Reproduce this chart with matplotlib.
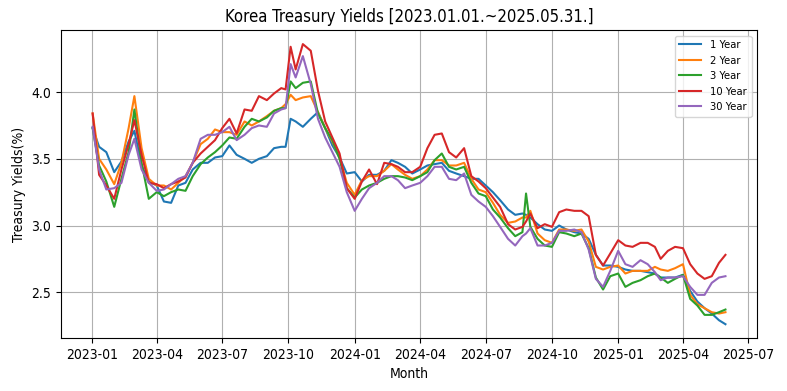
import pandas as pd
import matplotlib.pyplot as plt
import matplotlib.dates as mdates

plt.rcParams['font.family'] = ['DejaVu Sans']
plt.rcParams['font.stretch'] = 'condensed'

# 날짜 (약 10일 간격으로 읽은 값)
dates = [
    "2023-01-02", "2023-01-11", "2023-01-21", "2023-02-01", "2023-02-11", "2023-02-21",
    "2023-03-01", "2023-03-11", "2023-03-21", "2023-04-01", "2023-04-11", "2023-04-21",
    "2023-05-01", "2023-05-11", "2023-05-21", "2023-06-01", "2023-06-11", "2023-06-21",
    "2023-07-01", "2023-07-11", "2023-07-21", "2023-08-01", "2023-08-11", "2023-08-21",
    "2023-09-01", "2023-09-11", "2023-09-21", "2023-09-27", "2023-10-04", "2023-10-11",
    "2023-10-21", "2023-11-01", "2023-11-11", "2023-11-21", "2023-12-01", "2023-12-11",
    "2023-12-21", "2024-01-01", "2024-01-11", "2024-01-21", "2024-02-01", "2024-02-11",
    "2024-02-21", "2024-03-01", "2024-03-11", "2024-03-21", "2024-04-01", "2024-04-11",
    "2024-04-21", "2024-05-01", "2024-05-11", "2024-05-21", "2024-06-01", "2024-06-11",
    "2024-06-21", "2024-07-01", "2024-07-11", "2024-07-21", "2024-08-01", "2024-08-11",
    "2024-08-21", "2024-08-26", "2024-09-01", "2024-09-11", "2024-09-21", "2024-10-01",
    "2024-10-11", "2024-10-21", "2024-11-01", "2024-11-11", "2024-11-21", "2024-12-01",
    "2024-12-11", "2024-12-21", "2025-01-01", "2025-01-11", "2025-01-21", "2025-02-01",
    "2025-02-11", "2025-02-21", "2025-03-01", "2025-03-11", "2025-03-21", "2025-04-01",
    "2025-04-11", "2025-04-21", "2025-05-01", "2025-05-11", "2025-05-21", "2025-05-30",
]

y1 = [
    3.73, 3.59, 3.55, 3.40, 3.48, 3.63, 3.71, 3.45, 3.33, 3.30, 3.18, 3.17,
    3.30, 3.32, 3.42, 3.47, 3.47, 3.51, 3.52, 3.60, 3.53, 3.50, 3.47, 3.50,
    3.52, 3.58, 3.59, 3.59, 3.80, 3.78, 3.74, 3.80, 3.85, 3.73, 3.60, 3.51,
    3.39, 3.40, 3.33, 3.38, 3.38, 3.41, 3.49, 3.47, 3.44, 3.39, 3.42, 3.45,
    3.46, 3.47, 3.41, 3.39, 3.37, 3.35, 3.35, 3.30, 3.25, 3.19, 3.12, 3.08,
    3.09, 3.08, 3.06, 3.01, 2.97, 2.96, 3.00, 2.97, 2.95, 2.94, 2.90, 2.78,
    2.70, 2.70, 2.69, 2.67, 2.66, 2.66, 2.65, 2.64, 2.61, 2.61, 2.61, 2.63,
    2.51, 2.43, 2.38, 2.34, 2.29, 2.26,
]
y2 = [
    3.84, 3.50, 3.42, 3.31, 3.47, 3.73, 3.97, 3.58, 3.35, 3.30, 3.30, 3.27,
    3.32, 3.37, 3.47, 3.61, 3.65, 3.72, 3.70, 3.70, 3.68, 3.78, 3.75, 3.78,
    3.82, 3.86, 3.88, 3.91, 3.98, 3.94, 3.96, 3.97, 3.85, 3.73, 3.63, 3.51,
    3.32, 3.23, 3.34, 3.37, 3.37, 3.41, 3.46, 3.42, 3.38, 3.35, 3.37, 3.42,
    3.49, 3.49, 3.45, 3.45, 3.47, 3.35, 3.27, 3.25, 3.17, 3.08, 3.02, 3.03,
    3.06, 3.06, 3.11, 2.94, 2.89, 2.87, 2.97, 2.97, 2.96, 2.97, 2.88, 2.69,
    2.67, 2.69, 2.70, 2.64, 2.66, 2.66, 2.66, 2.69, 2.67, 2.66, 2.68, 2.71,
    2.48, 2.41, 2.38, 2.35, 2.34, 2.35,
]
y3 = [
    3.73, 3.45, 3.33, 3.14, 3.35, 3.55, 3.87, 3.47, 3.20, 3.25, 3.22, 3.25,
    3.27, 3.26, 3.37, 3.46, 3.51, 3.55, 3.60, 3.66, 3.65, 3.74, 3.80, 3.78,
    3.81, 3.86, 3.88, 3.88, 4.08, 4.03, 4.07, 4.08, 3.84, 3.73, 3.64, 3.50,
    3.28, 3.21, 3.27, 3.30, 3.32, 3.35, 3.37, 3.37, 3.36, 3.34, 3.37, 3.40,
    3.49, 3.54, 3.44, 3.42, 3.44, 3.32, 3.24, 3.22, 3.12, 3.06, 2.98, 2.92,
    2.95, 3.24, 2.99, 2.90, 2.85, 2.84, 2.95, 2.94, 2.92, 2.94, 2.83, 2.61,
    2.52, 2.62, 2.64, 2.54, 2.57, 2.59, 2.62, 2.64, 2.61, 2.57, 2.60, 2.63,
    2.45, 2.40, 2.33, 2.33, 2.35, 2.37,
]
y10 = [
    3.84, 3.38, 3.30, 3.20, 3.42, 3.61, 3.79, 3.53, 3.32, 3.31, 3.28, 3.31,
    3.33, 3.36, 3.47, 3.54, 3.59, 3.64, 3.73, 3.80, 3.69, 3.87, 3.86, 3.97,
    3.94, 3.99, 4.03, 4.02, 4.34, 4.17, 4.36, 4.31, 4.01, 3.78, 3.66, 3.54,
    3.28, 3.20, 3.33, 3.42, 3.31, 3.47, 3.46, 3.44, 3.40, 3.40, 3.44, 3.58,
    3.68, 3.69, 3.55, 3.51, 3.58, 3.37, 3.33, 3.28, 3.21, 3.14, 3.01, 2.97,
    2.99, 3.03, 3.09, 2.98, 3.01, 2.99, 3.10, 3.12, 3.11, 3.11, 3.07, 2.78,
    2.70, 2.79, 2.89, 2.85, 2.84, 2.87, 2.87, 2.84, 2.75, 2.81, 2.84, 2.83,
    2.71, 2.64, 2.60, 2.62, 2.72, 2.78,
]
y30 = [
    3.74, 3.42, 3.27, 3.28, 3.32, 3.53, 3.65, 3.42, 3.32, 3.26, 3.27, 3.31,
    3.35, 3.37, 3.47, 3.65, 3.68, 3.68, 3.70, 3.74, 3.64, 3.68, 3.73, 3.75,
    3.74, 3.84, 3.87, 3.88, 4.21, 4.11, 4.27, 4.06, 3.80, 3.66, 3.55, 3.44,
    3.25, 3.11, 3.20, 3.28, 3.32, 3.37, 3.37, 3.34, 3.28, 3.30, 3.32, 3.37,
    3.44, 3.44, 3.35, 3.34, 3.39, 3.23, 3.18, 3.14, 3.07, 2.99, 2.90, 2.85,
    2.92, 2.94, 2.98, 2.85, 2.85, 2.87, 2.96, 2.96, 2.97, 2.95, 2.82, 2.60,
    2.54, 2.66, 2.81, 2.71, 2.69, 2.74, 2.71, 2.65, 2.59, 2.61, 2.61, 2.62,
    2.54, 2.48, 2.48, 2.57, 2.61, 2.62,
]

df = pd.DataFrame({
    "date": pd.to_datetime(dates),
    "1 Year": y1,
    "2 Year": y2,
    "3 Year": y3,
    "10 Year": y10,
    "30 Year": y30,
})

fig, ax = plt.subplots(figsize=(7.87, 3.91), dpi=100)
fig.subplots_adjust(left=0.0775, right=0.962, bottom=0.135, top=0.923)

for col in ["1 Year", "2 Year", "3 Year", "10 Year", "30 Year"]:
    ax.plot(df["date"], df[col], label=col)

ax.xaxis.set_major_locator(mdates.MonthLocator(bymonth=[1, 4, 7, 10]))
ax.xaxis.set_major_formatter(mdates.DateFormatter("%Y-%m"))

ax.grid(True)
ax.legend(loc="upper right", fontsize=8)
ax.set_xlabel("Month")
ax.set_ylabel("Treasury Yields(%)")
ax.set_title("Korea Treasury Yields [2023.01.01.~2025.05.31.]", fontsize=12)

fig.savefig("out.png", dpi=100)
